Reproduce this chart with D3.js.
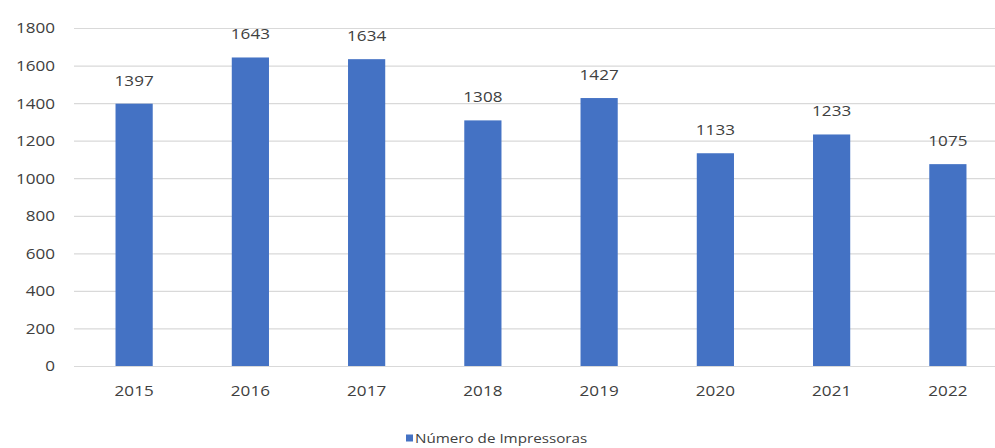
<!DOCTYPE html>
<html>
<head>
<meta charset="utf-8">
<script src="https://cdn.jsdelivr.net/npm/d3@7"></script>
<style>
  html, body { margin: 0; padding: 0; background: #fff; }
  svg { display: block; }
  text { font-family: "Open Sans", "Noto Sans", sans-serif; fill: #404040; }
</style>
</head>
<body>
<svg id="chart" width="995" height="448"></svg>
<script>
// Printer counts per year
const years = ["2015", "2016", "2017", "2018", "2019", "2020", "2021", "2022"];
const printers = [1397, 1643, 1634, 1308, 1427, 1133, 1233, 1075];
const yTicks = [0, 200, 400, 600, 800, 1000, 1200, 1400, 1600, 1800];
const seriesName = "Número de Impressoras";

const W = 995, H = 448;
const margin = { left: 76, right: -11, top: 28, bottom: 82 };
const barColor = "#4472c4";
const gridColor = "#d9d9d9";
const stretch = "scale(1.22,1)";

const svg = d3.select("#chart");

const x = d3.scaleBand()
  .domain(years)
  .range([margin.left, W - margin.right])
  .paddingInner(0.68)
  .paddingOuter(0.34);

const y = d3.scaleLinear()
  .domain([0, 1800])
  .range([H - margin.bottom, margin.top]);

// horizontal gridlines
svg.append("g")
  .selectAll("line")
  .data(yTicks)
  .join("line")
  .attr("x1", 74)
  .attr("x2", W)
  .attr("y1", d => y(d) + 0.5)
  .attr("y2", d => y(d) + 0.5)
  .attr("stroke", gridColor)
  .attr("stroke-width", 1.2);

// y axis labels
const yAxis = svg.append("g")
  .attr("transform", `translate(55,0)`)
  .call(d3.axisLeft(y).tickValues(yTicks).tickFormat(d3.format("d")).tickSize(0).tickPadding(0));
yAxis.select(".domain").remove();
yAxis.selectAll("text")
  .style("font-size", "14px")
  .attr("dy", "0.35em")
  .attr("transform", stretch);

// x axis labels
const xAxis = svg.append("g")
  .attr("transform", `translate(0,${y(0)})`)
  .call(d3.axisBottom(x).tickSize(0).tickPadding(20));
xAxis.select(".domain").remove();
xAxis.selectAll("text")
  .style("font-size", "14px")
  .attr("transform", stretch);

// bars
svg.append("g")
  .selectAll("rect")
  .data(years)
  .join("rect")
  .attr("x", d => x(d))
  .attr("width", x.bandwidth())
  .attr("y", (d, i) => y(printers[i]))
  .attr("height", (d, i) => y(0) - y(printers[i]))
  .attr("fill", barColor);

// value labels above bars
svg.append("g")
  .selectAll("text")
  .data(years)
  .join("text")
  .attr("transform", (d, i) => `translate(${x(d) + x.bandwidth() / 2},${y(printers[i]) - 23}) ${stretch}`)
  .attr("text-anchor", "middle")
  .attr("dy", "0.35em")
  .style("font-size", "14px")
  .text((d, i) => printers[i]);

// legend
const legend = svg.append("g").attr("transform", "translate(406,438)");
legend.append("rect")
  .attr("x", 0).attr("y", -3.5)
  .attr("width", 7).attr("height", 7)
  .attr("fill", barColor);
legend.append("text")
  .attr("transform", "translate(9,0) scale(1.17,1)")
  .attr("dy", "0.35em")
  .style("font-size", "13px")
  .text(seriesName);
</script>
</body>
</html>
